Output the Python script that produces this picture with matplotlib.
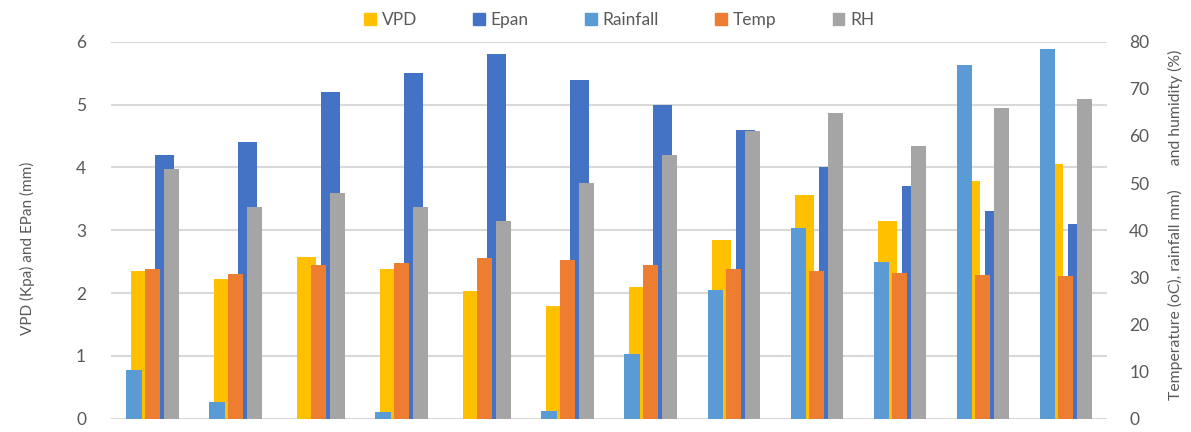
import numpy as np
import matplotlib
matplotlib.use('Agg')
import matplotlib.pyplot as plt
from matplotlib.patches import Patch

plt.rcParams.update({'font.family': ['Lato', 'DejaVu Sans'], 'font.size': 12.5})

# monthly climate values
months = np.arange(12)
vpd = [2.35, 2.22, 2.57, 2.38, 2.03, 1.79, 2.09, 2.84, 3.56, 3.15, 3.78, 4.05]
epan = [4.20, 4.40, 5.20, 5.50, 5.80, 5.39, 5.00, 4.59, 4.00, 3.70, 3.30, 3.10]
rainfall = [10.3, 3.5, 0, 1.4, 0, 1.6, 13.7, 27.3, 40.5, 33.2, 75.0, 78.4]
temp = [31.8, 30.7, 32.6, 33.0, 34.1, 33.7, 32.6, 31.8, 31.3, 30.9, 30.5, 30.3]
rh = [53.0, 44.9, 47.9, 44.9, 41.9, 50.0, 55.9, 61.0, 64.8, 57.8, 65.9, 67.8]

c_vpd = '#FFC000'
c_epan = '#4472C4'
c_rain = '#5B9BD5'
c_temp = '#ED7D31'
c_rh = '#A5A5A5'
txt = '#595959'

fig = plt.figure(figsize=(11.91, 4.32), dpi=100)
ax1 = fig.add_axes([0.0932, 0.0308, 0.8363, 0.8727])
ax2 = ax1.twinx()

# primary axis: VPD and Epan
w1 = 0.229
ax1.bar(months - 0.145, vpd, width=w1, color=c_vpd, zorder=2)
ax1.bar(months + 0.145, epan, width=w1, color=c_epan, zorder=2)

# secondary axis: rainfall, temperature, humidity (drawn over the primary bars)
w2 = 0.181
ax2.bar(months - 0.223, rainfall, width=w2, color=c_rain)
ax2.bar(months, temp, width=w2, color=c_temp)
ax2.bar(months + 0.223, rh, width=w2, color=c_rh)

ax1.set_xlim(-0.5, 11.5)
ax1.set_ylim(0, 6)
ax1.set_yticks(range(0, 7))
ax2.set_ylim(0, 80)
ax2.set_yticks(range(0, 81, 10))
ax1.set_xticks([])

ax1.yaxis.grid(True, color='#D9D9D9', linewidth=1.5, zorder=0)
ax1.set_axisbelow(True)
for a in (ax1, ax2):
    for s in a.spines.values():
        s.set_visible(False)
ax1.tick_params(axis='y', length=0, pad=18, labelcolor=txt)
ax2.tick_params(axis='y', length=0, pad=16, labelcolor=txt)

fig.text(0.023, 0.426, 'VPD (Kpa) and EPan (mm)', rotation=90, ha='center', va='center',
         color=txt, fontsize=11)
fig.text(0.987, 0.479, 'Temperature (oC), rainfall mm)      and humidity (%)', rotation=90,
         ha='center', va='center', color=txt, fontsize=11.3)

handles = [Patch(color=c_vpd, label='VPD'), Patch(color=c_epan, label='Epan'),
           Patch(color=c_rain, label='Rainfall'), Patch(color=c_temp, label='Temp'),
           Patch(color=c_rh, label='RH')]
leg = fig.legend(handles=handles, loc='center', bbox_to_anchor=(0.52, 0.954), ncol=5,
                 frameon=False, handlelength=0.65, handleheight=0.65, handletextpad=0.35,
                 columnspacing=3.25)
for t in leg.get_texts():
    t.set_color(txt)

plt.savefig('out.png', dpi=100)
